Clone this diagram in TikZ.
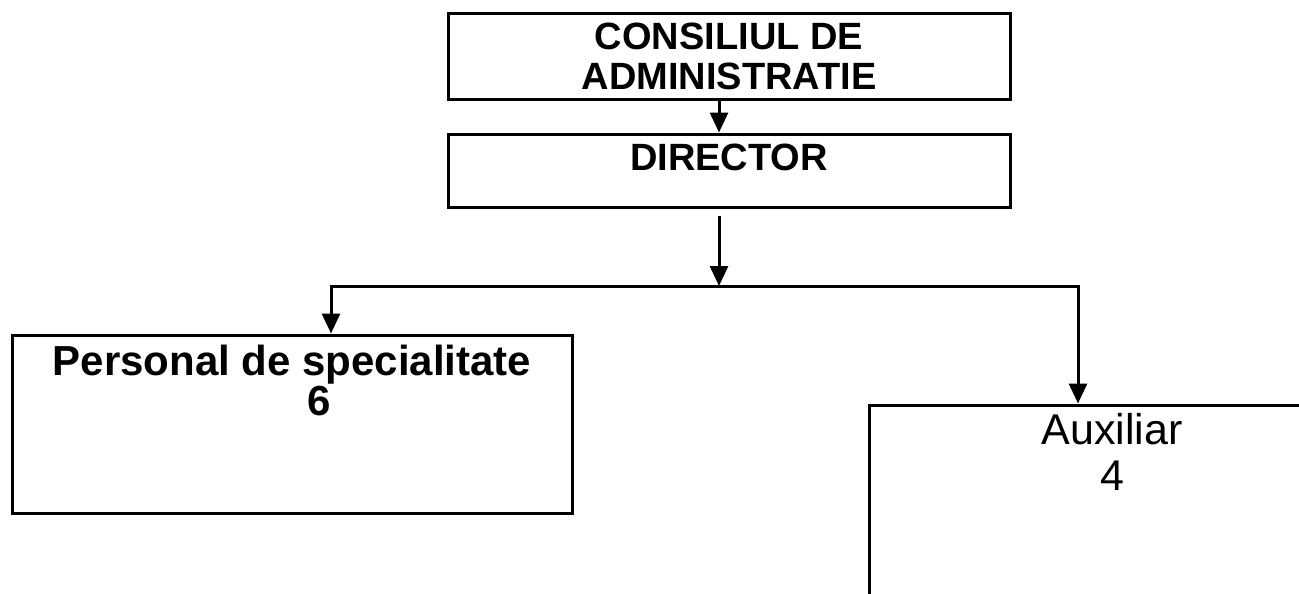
\documentclass[tikz,border=0pt]{standalone}
\usepackage{fontspec}
\setmainfont{Liberation Sans}
\usetikzlibrary{arrows.meta}

\begin{document}
\begin{tikzpicture}[x=1pt,y=-1pt,
        box/.style={draw,line width=3pt,rectangle,inner sep=0pt},
        conn/.style={line width=3pt,->},
        >={Triangle[length=20pt,width=18pt]}]
                \path[use as bounding box,clip] (0,0) rectangle (1299,594);

                \node[box,minimum width=562pt,minimum height=85pt,align=center,
                    font=\fontsize{38}{40}\selectfont\bfseries] (consiliu) at (729,56.5) {CONSILIUL DE\\ADMINISTRATIE};
                \node[box,minimum width=562pt,minimum height=73pt,text height=27pt,text depth=28pt,
                    font=\fontsize{38}{40}\selectfont\bfseries] (director) at (729,170.5) {DIRECTOR};

                \node[box,minimum width=560pt,minimum height=178pt] (personal) at (292,424) {};
                \node[anchor=north,align=center,inner sep=0pt,font=\fontsize{42}{40}\selectfont\bfseries]
                    (personaltxt) at ([yshift=-11pt]personal.north) {Personal de specialitate\\\hspace{1.3em}6};

                \node[box,minimum width=486pt,minimum height=230pt] (auxiliar) at (1112,520) {};
                \node[anchor=north,align=center,inner sep=0pt,font=\fontsize{43}{46}\selectfont]
                    (auxiliartxt) at ([yshift=-10pt]auxiliar.north) {Auxiliar\\4};

                \coordinate (forktop) at (719,216);
                \coordinate (fork) at (719,286);
                \coordinate (lbranch) at (331,286);
                \coordinate (rbranch) at (1078,286);

                \draw[conn] (consiliu.south -| fork) -- (director.north -| fork);
                \draw[conn] (forktop) -- (fork);
                \draw[conn,<->] (personal.north -| lbranch) -- (lbranch) -- (rbranch) -- (auxiliar.north -| rbranch);
\end{tikzpicture}
\end{document}
